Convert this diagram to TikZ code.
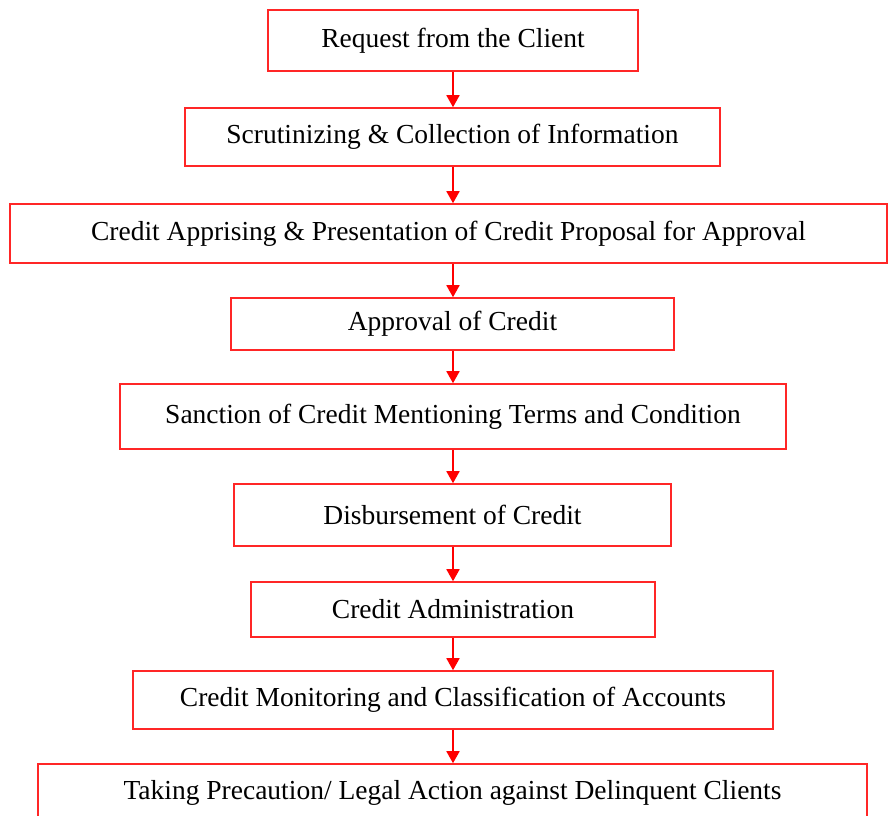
\documentclass[tikz,border=0pt]{standalone}
\usepackage{fontspec}
\setmainfont{Liberation Serif}
\usetikzlibrary{arrows.meta}

\begin{document}
\begin{tikzpicture}[x=1pt,y=-1pt]
\tikzstyle{every node}=[font=\fontsize{27.5}{32}\selectfont]
\tikzstyle{stage}=[draw=red!85,line width=1.6pt,inner sep=0pt]
\tikzstyle{flow}=[draw=red,line width=1.8pt,-{Triangle[width=13pt,length=12pt]}]

% Page frame
\useasboundingbox (0,0) rectangle (889,815);
\clip (0,0) rectangle (889,815);

%
% The stages of the credit process, top to bottom
%
\node[stage,minimum width=370pt,minimum height=61pt] (request) at (453,40.5)
  {Request from the Client};
\node[stage,minimum width=535pt,minimum height=58pt] (scrutiny) at (452.5,137)
  {Scrutinizing \& Collection of Information};
\node[stage,minimum width=877pt,minimum height=59pt] (appraisal) at (448.5,233.5)
  {Credit Apprising \& Presentation of Credit Proposal for Approval};
\node[stage,minimum width=443pt,minimum height=52pt] (approval) at (452.5,324)
  {Approval of Credit};
\node[stage,minimum width=666pt,minimum height=65pt] (sanction) at (453,416.5)
  {Sanction of Credit Mentioning Terms and Condition};
\node[stage,minimum width=437pt,minimum height=62pt] (disburse) at (452.5,515)
  {Disbursement of Credit};
\node[stage,minimum width=404pt,minimum height=55pt] (admin) at (453,609.5)
  {Credit Administration};
\node[stage,minimum width=640pt,minimum height=58pt] (monitor) at (453,700)
  {Credit Monitoring and Classification of Accounts};
\node[stage,minimum width=829pt,minimum height=58pt] (legal) at (452.5,793)
  {Taking Precaution/ Legal Action against Delinquent Clients};

%
% Arrows between the stages, all on one vertical line
%
\coordinate (axis) at (request.south);
\draw[flow] (axis |- request.south) -- (axis |- scrutiny.north);
\draw[flow] (axis |- scrutiny.south) -- (axis |- appraisal.north);
\draw[flow] (axis |- appraisal.south) -- (axis |- approval.north);
\draw[flow] (axis |- approval.south) -- (axis |- sanction.north);
\draw[flow] (axis |- sanction.south) -- (axis |- disburse.north);
\draw[flow] (axis |- disburse.south) -- (axis |- admin.north);
\draw[flow] (axis |- admin.south) -- (axis |- monitor.north);
\draw[flow] (axis |- monitor.south) -- (axis |- legal.north);

\end{tikzpicture}
\end{document}
